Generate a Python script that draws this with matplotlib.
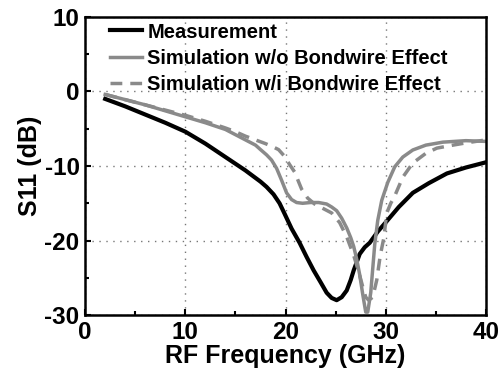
import numpy as np
import matplotlib.pyplot as plt
from matplotlib.ticker import MultipleLocator

# Measurement
f_meas = [2, 4, 6, 8, 10, 12, 14, 15, 16, 17, 17.5, 18.1, 18.8, 19.4, 19.9, 20.6, 21.4, 22.1, 22.8, 23.5, 24.1,
          24.6, 25.1, 25.6, 26.1, 26.5, 26.8, 27.4, 27.9, 28.4, 29.2, 30.1, 31.3, 32.7, 34.3, 36.1, 38, 40]
s_meas = [-1.0, -2.0, -3.1, -4.2, -5.4, -7.0, -8.8, -9.7, -10.6, -11.6, -12.1, -12.8, -13.8, -15.0, -16.4, -18.4,
          -20.3, -22.2, -24.0, -25.6, -27.0, -27.7, -28.0, -27.6, -26.7, -25.3, -24.0, -21.8, -20.9, -20.3, -18.8,
          -17.4, -15.5, -13.6, -12.3, -11.0, -10.2, -9.5]

# Simulation without bondwire
f_wo = [2, 4, 6, 8, 10, 12, 14, 15, 16, 17, 17.5, 18.1, 18.6, 19.1, 19.6, 20.1, 20.6, 21.1, 21.7, 22.5, 23.3,
        24.1, 24.6, 25.1, 25.6, 26.1, 26.5, 26.8, 27.1, 27.4, 27.7, 28.0, 28.2, 28.5, 28.9, 29.2, 29.6, 30.2,
        30.9, 31.7, 32.7, 34, 35.7, 38, 40]
s_wo = [-0.4, -1.1, -1.8, -2.6, -3.4, -4.2, -5.1, -5.8, -6.5, -7.2, -7.8, -8.5, -9.2, -10.3, -11.9, -13.6, -14.5,
        -14.9, -15.0, -14.9, -14.9, -15.1, -15.5, -16.0, -17.0, -18.3, -19.6, -20.8, -22.5, -24.6, -27.2, -29.6,
        -29.6, -27.0, -20.5, -17.3, -14.6, -12.2, -10.1, -8.8, -7.85, -7.2, -6.8, -6.6, -6.7]

# Simulation with bondwire
f_wi = [2, 4, 6, 8, 10, 12, 14, 15, 16, 17, 18, 18.7, 19.3, 19.9, 20.4, 20.9, 21.6, 22.2, 22.9, 23.6, 24.6,
        25.4, 26.1, 26.8, 27.3, 27.7, 28.0, 28.3, 28.7, 29.1, 29.45, 29.8, 30.1, 30.5, 30.9, 31.7, 32.7, 34,
        35.1, 36.7, 38, 40]
s_wi = [-0.4, -1.1, -1.8, -2.5, -3.2, -4.0, -4.9, -5.4, -6.0, -6.5, -7.0, -7.4, -7.8, -8.7, -9.8, -10.8, -13.1,
        -14.3, -15.1, -15.6, -16.3, -17.6, -19.5, -22.0, -24.2, -26.2, -27.6, -28.0, -27.6, -25.3, -22.0, -19.7,
        -16.3, -15.0, -14.0, -11.5, -9.6, -8.3, -7.6, -7.2, -6.9, -6.5]

plt.rcParams['font.family'] = ['Liberation Sans', 'DejaVu Sans']
plt.rcParams['font.weight'] = 'bold'
plt.rcParams['axes.unicode_minus'] = False

fig = plt.figure(figsize=(5.01, 3.76), dpi=100)
ax = fig.add_axes([0.170, 0.162, 0.800, 0.793])

gray = '#8a8a8a'
ax.plot(f_meas, s_meas, color='black', lw=3.0, label='Measurement')
ax.plot(f_wo, s_wo, color=gray, lw=2.5, label='Simulation w/o Bondwire Effect')
ax.plot(f_wi, s_wi, color=gray, lw=2.5, ls=(0, (3.4, 2.3)), label='Simulation w/i Bondwire Effect')

ax.set_xlim(0, 40)
ax.set_ylim(-30, 10)
ax.xaxis.set_major_locator(MultipleLocator(10))
ax.xaxis.set_minor_locator(MultipleLocator(5))
ax.yaxis.set_major_locator(MultipleLocator(10))
ax.yaxis.set_minor_locator(MultipleLocator(5))
ax.tick_params(which='both', direction='in', width=1.5, labelsize=17.5, pad=4)
ax.tick_params(which='major', length=4)
ax.tick_params(which='minor', length=3)
ax.grid(True, which='major', ls=(0, (1, 4)), color='#777777', lw=1)
for s in ax.spines.values():
    s.set_linewidth(1.8)

ax.set_xlabel('RF Frequency (GHz)', fontsize=18, fontweight='bold', labelpad=0)
ax.set_ylabel('S11 (dB)', fontsize=18, fontweight='bold', labelpad=2)

ax.legend(loc='upper left', frameon=False, handlelength=1.6,
          handletextpad=0.25, labelspacing=0.35, borderaxespad=0.1,
          bbox_to_anchor=(0.037, 1.015), prop={'weight': 'bold', 'size': 14.5})

fig.savefig('out.png', dpi=100)
